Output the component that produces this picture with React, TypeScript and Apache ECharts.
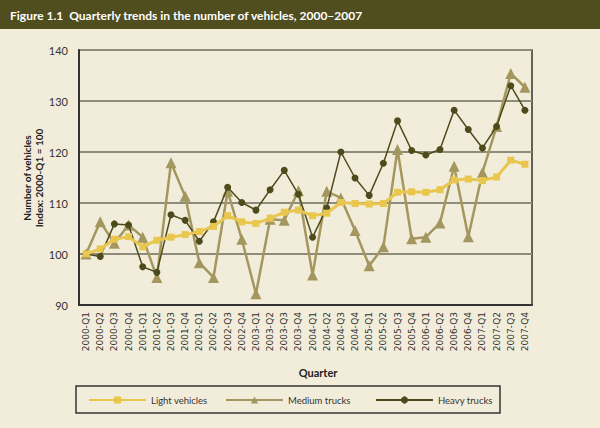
import React, { useEffect, useRef } from "react";
import * as echarts from "echarts";

const quarters = [
  "2000-Q1","2000-Q2","2000-Q3","2000-Q4",
  "2001-Q1","2001-Q2","2001-Q3","2001-Q4",
  "2002-Q1","2002-Q2","2002-Q3","2002-Q4",
  "2003-Q1","2003-Q2","2003-Q3","2003-Q4",
  "2004-Q1","2004-Q2","2004-Q3","2004-Q4",
  "2005-Q1","2005-Q2","2005-Q3","2005-Q4",
  "2006-Q1","2006-Q2","2006-Q3","2006-Q4",
  "2007-Q1","2007-Q2","2007-Q3","2007-Q4",
];

const lightVehicles = [
  100.0, 101.0, 102.9, 103.4, 101.4, 102.7, 103.3, 103.8,
  104.4, 105.4, 107.5, 106.3, 106.0, 107.0, 108.2, 108.6,
  107.5, 108.0, 110.1, 109.9, 109.8, 109.9, 112.1, 112.2,
  112.1, 112.6, 114.5, 114.7, 114.4, 115.1, 118.4, 117.6,
];

const mediumTrucks = [
  100.0, 106.3, 102.1, 105.7, 103.3, 95.4, 117.9, 111.3,
  98.3, 95.4, 112.3, 102.9, 92.2, 106.8, 106.6, 112.4,
  95.9, 112.3, 111.0, 104.6, 97.7, 101.4, 120.5, 103.0,
  103.3, 106.1, 117.2, 103.4, 116.0, 125.0, 135.4, 132.7,
];

const heavyTrucks = [
  100.0, 99.5, 105.9, 105.7, 97.5, 96.4, 107.7, 106.6,
  102.5, 106.3, 113.1, 110.1, 108.6, 112.6, 116.4, 111.7,
  103.3, 109.0, 120.0, 114.9, 111.5, 117.8, 126.1, 120.3,
  119.4, 120.5, 128.2, 124.4, 120.8, 125.0, 133.0, 128.2,
];

const yTicks = { min: 90, max: 140, interval: 10 };

const BG = "#f2edda";
const DARK = "#504d1f";
const LIGHT_C = "#e9c74e";
const MED_C = "#a3975f";
const HEAVY_C = "#4d4b1c";
const FONT = "Lato, 'Open Sans', sans-serif";

export default function App() {
  const ref = useRef<HTMLDivElement>(null);

  useEffect(() => {
    if (!ref.current) return;
    const chart = echarts.init(ref.current, null, { renderer: "svg" });
    const legendText = { fontFamily: FONT, fontSize: 9.5, color: "#333" };
    const legendBase = {
      top: 395,
      itemWidth: 57,
      itemHeight: 9,
      itemGap: 6,
      padding: 0,
      textStyle: legendText,
    };
    const option: any = {
      animation: false,
      backgroundColor: BG,
      grid: {
        left: 79,
        top: 50,
        width: 453,
        height: 255,
        show: true,
        borderColor: "#333",
        borderWidth: 1.5,
        backgroundColor: "transparent",
      },
      xAxis: {
        type: "category",
        data: quarters,
        boundaryGap: true,
        axisLine: { lineStyle: { color: "#333", width: 2 } },
        axisTick: { alignWithLabel: true, length: 5, lineStyle: { color: "#333", width: 1 } },
        axisLabel: {
          rotate: 90,
          interval: 0,
          fontFamily: "'DejaVu Sans', sans-serif",
          fontSize: 9,
          color: "#333",
          margin: 7,
        },
      },
      yAxis: {
        type: "value",
        min: yTicks.min,
        max: yTicks.max,
        interval: yTicks.interval,
        axisLine: { show: true, lineStyle: { color: "#333", width: 2 } },
        axisTick: { show: false },
        axisLabel: { fontFamily: FONT, fontSize: 11, color: "#333", margin: 11 },
        splitLine: { lineStyle: { color: "#8f8b7b", width: 2 } },
      },
      legend: [
        { ...legendBase, left: 88, data: ["Light vehicles"] },
        { ...legendBase, left: 225, data: ["Medium trucks"] },
        { ...legendBase, left: 375, data: ["Heavy trucks"] },
      ],
      graphic: [
        {
          type: "rect",
          shape: { x: 0, y: 0, width: 600, height: 29 },
          style: { fill: DARK },
          z: 0,
        },
        {
          type: "text",
          x: 10,
          y: 15,
          style: {
            text: "Figure 1.1  Quarterly trends in the number of vehicles, 2000–2007",
            fill: "#ffffff",
            font: `bold 12px ${FONT}`,
            textVerticalAlign: "middle",
          },
          z: 1,
        },
        {
          type: "text",
          x: 33,
          y: 178,
          rotation: Math.PI / 2,
          style: {
            text: "Number of vehicles\nIndex: 2000-Q1 = 100",
            fill: "#222",
            font: `bold 10px ${FONT}`,
            textAlign: "center",
            textVerticalAlign: "middle",
            lineHeight: 12,
          },
        },
        {
          type: "text",
          x: 318,
          y: 372,
          style: {
            text: "Quarter",
            fill: "#222",
            font: `bold 11px ${FONT}`,
            textAlign: "center",
            textVerticalAlign: "middle",
          },
        },
        {
          type: "rect",
          shape: { x: 76, y: 386, width: 424, height: 27 },
          style: { fill: "none", stroke: "#333", lineWidth: 1.5 },
        },
      ],
      series: [
        {
          name: "Medium trucks",
          type: "line",
          data: mediumTrucks,
          symbol: "triangle",
          symbolSize: 11,
          lineStyle: { color: MED_C, width: 2.5 },
          itemStyle: { color: MED_C },
          z: 2,
        },
        {
          name: "Heavy trucks",
          type: "line",
          data: heavyTrucks,
          symbol: "circle",
          symbolSize: 7,
          lineStyle: { color: HEAVY_C, width: 1.5 },
          itemStyle: { color: HEAVY_C },
          z: 3,
        },
        {
          name: "Light vehicles",
          type: "line",
          data: lightVehicles,
          symbol: "rect",
          symbolSize: 7,
          lineStyle: { color: LIGHT_C, width: 3 },
          itemStyle: { color: LIGHT_C },
          z: 4,
        },
      ],
    };
    chart.setOption(option);
    return () => chart.dispose();
  }, []);

  return (
    <div
      ref={ref}
      style={{ position: "fixed", left: 0, top: 0, width: 600, height: 428 }}
    />
  );
}
